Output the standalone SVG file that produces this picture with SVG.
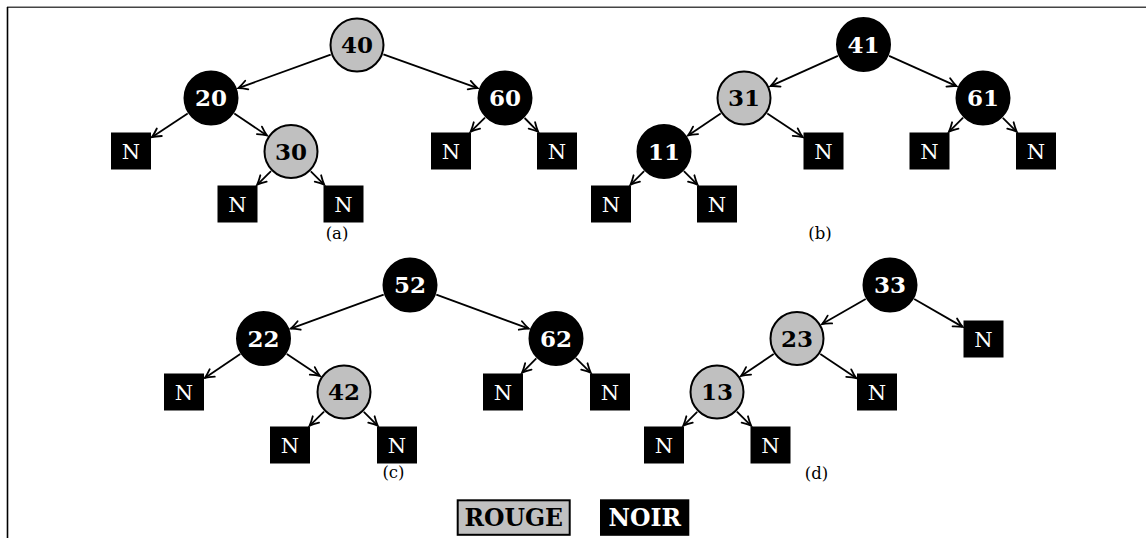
<svg xmlns="http://www.w3.org/2000/svg" width="1146" height="538" viewBox="0 0 1146 538">
<style>
.red{fill:#c0c0c0;stroke:#000;stroke-width:2}
.blk{fill:#000;stroke:#000;stroke-width:2}
.nil{fill:#000}
.tr{font-family:"DejaVu Serif",serif;font-weight:bold;font-size:23px;text-anchor:middle;fill:#000}
.tb{font-family:"DejaVu Serif",serif;font-weight:bold;font-size:23px;text-anchor:middle;fill:#fff}
.tn{font-family:"DejaVu Serif",serif;font-size:21px;text-anchor:middle;fill:#fff}
.lab{font-family:"DejaVu Serif",serif;font-size:16.5px;text-anchor:middle;fill:#000}
.leg{font-family:"DejaVu Serif",serif;font-weight:bold;font-size:23.5px;text-anchor:middle}
#edges line{stroke:#000;stroke-width:1.8;marker-end:url(#ar)}
</style>
<defs>
<marker id="ar" markerUnits="userSpaceOnUse" viewBox="-11 -6 13 12" refX="0" refY="0" markerWidth="13" markerHeight="12" orient="auto">
<path d="M-9,-4.5 Q-3.5,-1.2 0,0 Q-3.5,1.2 -9,4.5" fill="none" stroke="#000" stroke-width="1.8" stroke-linecap="round"/>
</marker>
</defs>
<rect width="1146" height="538" fill="#fff"/>
<line x1="7" y1="7.2" x2="1146" y2="7.2" stroke="#444" stroke-width="1.6"/>
<line x1="7.5" y1="7" x2="7.5" y2="538" stroke="#000" stroke-width="1.6"/>
<g id="edges">
<line x1="330.7" y1="54.6" x2="238.3" y2="88.1"/>
<line x1="383.4" y1="54.4" x2="477.7" y2="88.2"/>
<line x1="187.7" y1="113.5" x2="151.8" y2="137.2"/>
<line x1="234.3" y1="113.6" x2="266.9" y2="135.4"/>
<line x1="485" y1="117.6" x2="470.5" y2="131.8"/>
<line x1="524.6" y1="118" x2="538.2" y2="131.8"/>
<line x1="271" y1="171.1" x2="257.1" y2="184.8"/>
<line x1="310.8" y1="171.3" x2="324.3" y2="184.8"/>
<line x1="837.9" y1="55.9" x2="770.5" y2="86.1"/>
<line x1="889.1" y1="55.9" x2="956.5" y2="86.1"/>
<line x1="720.7" y1="113.6" x2="688.1" y2="135.4"/>
<line x1="767.3" y1="113.5" x2="802.7" y2="137.1"/>
<line x1="963.1" y1="117.7" x2="948.9" y2="131.8"/>
<line x1="1002.8" y1="117.8" x2="1016.8" y2="131.8"/>
<line x1="644.1" y1="171.2" x2="630.4" y2="184.8"/>
<line x1="683.9" y1="171.2" x2="697.6" y2="184.8"/>
<line x1="383.7" y1="294.6" x2="290.7" y2="328.6"/>
<line x1="436.3" y1="294.6" x2="528.8" y2="328.6"/>
<line x1="240.3" y1="354.1" x2="204.8" y2="378"/>
<line x1="286.8" y1="354" x2="319.8" y2="375.9"/>
<line x1="536.3" y1="358.4" x2="522" y2="372.8"/>
<line x1="575.9" y1="358.2" x2="590.8" y2="372.8"/>
<line x1="324" y1="411.6" x2="309.5" y2="425.8"/>
<line x1="363.8" y1="411.8" x2="377.8" y2="425.8"/>
<line x1="865.7" y1="299" x2="822.1" y2="324"/>
<line x1="914.2" y1="299" x2="962.6" y2="326.9"/>
<line x1="773.7" y1="354.1" x2="741.1" y2="375.9"/>
<line x1="820.3" y1="354.1" x2="856.2" y2="378.1"/>
<line x1="697.2" y1="411.8" x2="683.2" y2="425.8"/>
<line x1="736.9" y1="411.7" x2="751.2" y2="425.8"/>
</g>
<!-- tree a -->
<g id="a40"><circle class="red" cx="357" cy="45" r="26.5"/><text class="tr" x="357" y="53">40</text></g>
<g id="a20"><circle class="blk" cx="211" cy="98" r="26.5"/><text class="tb" x="211" y="106">20</text></g>
<g id="a60"><circle class="blk" cx="505" cy="98" r="26.5"/><text class="tb" x="505" y="106">60</text></g>
<g id="a30"><circle class="red" cx="291" cy="151.5" r="26.5"/><text class="tr" x="291" y="159.5">30</text></g>
<g id="an1"><rect class="nil" x="111" y="132.5" width="40" height="37"/><text class="tn" x="131" y="158.5">N</text></g>
<g id="an2"><rect class="nil" x="431" y="132.5" width="40" height="37"/><text class="tn" x="451" y="158.5">N</text></g>
<g id="an3"><rect class="nil" x="537" y="132.5" width="40" height="37"/><text class="tn" x="557" y="158.5">N</text></g>
<g id="an4"><rect class="nil" x="217.5" y="185.5" width="40" height="37"/><text class="tn" x="237.5" y="211.5">N</text></g>
<g id="an5"><rect class="nil" x="323.5" y="185.5" width="40" height="37"/><text class="tn" x="343.5" y="211.5">N</text></g>
<text class="lab" x="337" y="239">(a)</text>
<!-- tree b -->
<g id="b41"><circle class="blk" cx="863.5" cy="44.5" r="26.5"/><text class="tb" x="863.5" y="52.5">41</text></g>
<g id="b31"><circle class="red" cx="744" cy="98" r="26.5"/><text class="tr" x="744" y="106">31</text></g>
<g id="b61"><circle class="blk" cx="983" cy="98" r="26.5"/><text class="tb" x="983" y="106">61</text></g>
<g id="b11"><circle class="blk" cx="664" cy="151.5" r="26.5"/><text class="tb" x="664" y="159.5">11</text></g>
<g id="bn1"><rect class="nil" x="803.5" y="132.5" width="40" height="37"/><text class="tn" x="823.5" y="158.5">N</text></g>
<g id="bn2"><rect class="nil" x="909.5" y="132.5" width="40" height="37"/><text class="tn" x="929.5" y="158.5">N</text></g>
<g id="bn3"><rect class="nil" x="1016" y="132.5" width="40" height="37"/><text class="tn" x="1036" y="158.5">N</text></g>
<g id="bn4"><rect class="nil" x="591" y="185.5" width="40" height="37"/><text class="tn" x="611" y="211.5">N</text></g>
<g id="bn5"><rect class="nil" x="697" y="185.5" width="40" height="37"/><text class="tn" x="717" y="211.5">N</text></g>
<text class="lab" x="820" y="239">(b)</text>
<!-- tree c -->
<g id="c52"><circle class="blk" cx="410" cy="285" r="26.5"/><text class="tb" x="410" y="293">52</text></g>
<g id="c22"><circle class="blk" cx="263.5" cy="338.5" r="26.5"/><text class="tb" x="263.5" y="346.5">22</text></g>
<g id="c62"><circle class="blk" cx="556" cy="338.5" r="26.5"/><text class="tb" x="556" y="346.5">62</text></g>
<g id="c42"><circle class="red" cx="344" cy="392" r="26.5"/><text class="tr" x="344" y="400">42</text></g>
<g id="cn1"><rect class="nil" x="164" y="373.5" width="40" height="37"/><text class="tn" x="184" y="399.5">N</text></g>
<g id="cn2"><rect class="nil" x="483" y="373.5" width="40" height="37"/><text class="tn" x="503" y="399.5">N</text></g>
<g id="cn3"><rect class="nil" x="590" y="373.5" width="40" height="37"/><text class="tn" x="610" y="399.5">N</text></g>
<g id="cn4"><rect class="nil" x="270" y="426.5" width="40" height="37"/><text class="tn" x="290" y="452.5">N</text></g>
<g id="cn5"><rect class="nil" x="377" y="426.5" width="40" height="37"/><text class="tn" x="397" y="452.5">N</text></g>
<text class="lab" x="393.5" y="478">(c)</text>
<!-- tree d -->
<g id="d33"><circle class="blk" cx="890" cy="285" r="26.5"/><text class="tb" x="890" y="293">33</text></g>
<g id="d23"><circle class="red" cx="797" cy="338.5" r="26.5"/><text class="tr" x="797" y="346.5">23</text></g>
<g id="d13"><circle class="red" cx="717" cy="392" r="26.5"/><text class="tr" x="717" y="400">13</text></g>
<g id="dn1"><rect class="nil" x="963.5" y="320.5" width="40" height="37"/><text class="tn" x="983.5" y="346.5">N</text></g>
<g id="dn2"><rect class="nil" x="857" y="373.5" width="40" height="37"/><text class="tn" x="877" y="399.5">N</text></g>
<g id="dn3"><rect class="nil" x="644" y="426.5" width="40" height="37"/><text class="tn" x="664" y="452.5">N</text></g>
<g id="dn4"><rect class="nil" x="750.5" y="426.5" width="40" height="37"/><text class="tn" x="770.5" y="452.5">N</text></g>
<text class="lab" x="816.5" y="479">(d)</text>
<!-- legend -->
<g id="legend-rouge"><rect x="457.7" y="500.3" width="112" height="34.5" fill="#c0c0c0" stroke="#000" stroke-width="2"/><text class="leg" x="513.7" y="526" fill="#000">ROUGE</text></g>
<g id="legend-noir"><rect x="600" y="499.3" width="89.3" height="36.5" fill="#000"/><text class="leg" x="644.7" y="526" fill="#fff">NOIR</text></g>
</svg>
